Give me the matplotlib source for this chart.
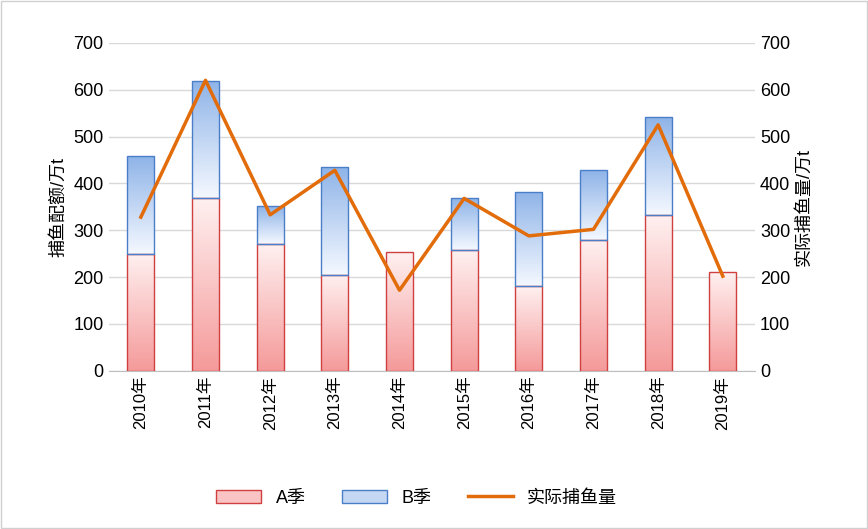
import matplotlib
matplotlib.use("Agg")
import matplotlib.pyplot as plt
import numpy as np
from matplotlib.patches import Rectangle
from matplotlib import font_manager as fm

cjk = None
for f in fm.fontManager.ttflist:
    if 'CJK' in f.name and ('SC' in f.name or cjk is None):
        cjk = f.name
        if 'SC' in f.name:
            break
if cjk is None:
    for path in fm.findSystemFonts():
        if 'CJK' in path:
            fm.fontManager.addfont(path)
            cjk = fm.FontProperties(fname=path).get_name()
            break
plt.rcParams['font.family'] = ['Liberation Sans'] + ([cjk] if cjk else []) + ['DejaVu Sans']

years = ["2010年","2011年","2012年","2013年","2014年","2015年","2016年","2017年","2018年","2019年"]
a_season = [250, 368, 270, 205, 253, 258, 180, 280, 332, 210]
b_season = [208, 250, 81, 230, 0, 110, 201, 148, 209, 0]
actual = [328, 620, 333, 428, 172, 368, 288, 302, 525, 202]

fig = plt.figure(figsize=(8.68, 5.29), dpi=100)
fig.patches.append(Rectangle((0.001, 0.001), 0.998, 0.998, transform=fig.transFigure,
                             fill=False, edgecolor='#d0d0d0', lw=1))
ax = fig.add_axes([0.125, 0.299, 0.745, 0.62])
x = np.arange(len(years))
w = 0.42
grad = np.linspace(0, 1, 100).reshape(-1, 1)
from matplotlib.colors import LinearSegmentedColormap
red = LinearSegmentedColormap.from_list('r', ['#f59a9a', '#fff0f0'])
blue = LinearSegmentedColormap.from_list('b', ['#f4f8ff', '#8fb4e8'])
for i in x:
    a, b = a_season[i], b_season[i]
    r = Rectangle((i - w/2, 0), w, a, fill=False, edgecolor='#d04040', lw=1, zorder=3)
    ax.add_patch(r)
    im = ax.imshow(grad, extent=(i - w/2, i + w/2, 0, a), origin='lower', cmap=red, aspect='auto', zorder=2)
    im.set_clip_path(r)
    if b > 0:
        r2 = Rectangle((i - w/2, a), w, b, fill=False, edgecolor='#4a7ec8', lw=1, zorder=3)
        ax.add_patch(r2)
        im2 = ax.imshow(grad, extent=(i - w/2, i + w/2, a, a + b), origin='lower', cmap=blue, aspect='auto', zorder=2)
        im2.set_clip_path(r2)
ax.set_xlim(-0.5, len(years) - 0.5)
ax.set_ylim(0, 700)
ax.set_yticks(range(0, 701, 100))
ax.grid(axis='y', color='#d9d9d9', lw=1)
ax.set_axisbelow(True)
for s in ['top', 'right', 'left']:
    ax.spines[s].set_visible(False)
ax.spines['bottom'].set_color('#bfbfbf')
ax.tick_params(length=0, labelsize=13)
ax.set_xticks(x)
ax.set_xticklabels(years, rotation=90, fontsize=12)
ax.set_ylabel("捕鱼配额/万t", fontsize=13)
ax2 = ax.twinx()
ax2.plot(x, actual, color='#e36c0a', lw=2.5, zorder=5)
ax2.set_ylim(0, 700)
ax2.set_yticks(range(0, 701, 100))
for s in ['top', 'right', 'left', 'bottom']:
    ax2.spines[s].set_visible(False)
ax2.tick_params(length=0, labelsize=13)
ax2.set_ylabel("实际捕鱼量/万t", fontsize=13)
ax.set_ylim(0, 700)
ax.set_xlim(-0.5, len(years) - 0.5)

from matplotlib.lines import Line2D
handles = [Rectangle((0, 0), 1, 1, facecolor='#fbc4c4', edgecolor='#d04040'),
           Rectangle((0, 0), 1, 1, facecolor='#c4d8f4', edgecolor='#4a7ec8'),
           Line2D([], [], color='#e36c0a', lw=2.5)]
fig.legend(handles, ["A季", "B季", "实际捕鱼量"], loc='center', bbox_to_anchor=(0.48, 0.058),
           ncol=3, frameon=False, fontsize=13, handlelength=2.5, columnspacing=2)
fig.savefig("out.png", dpi=100)
